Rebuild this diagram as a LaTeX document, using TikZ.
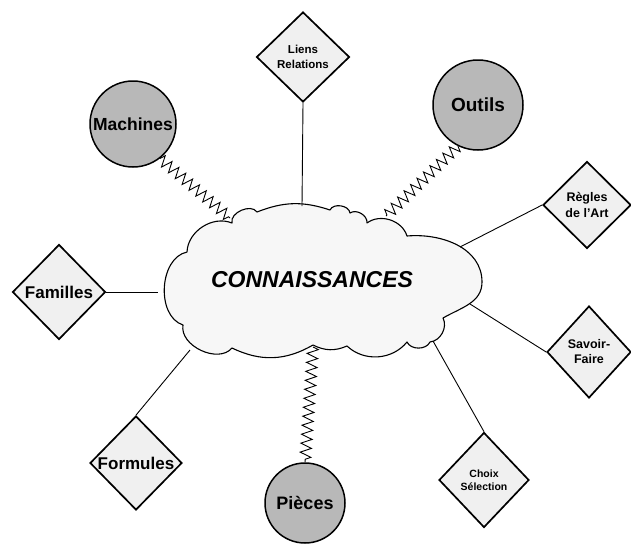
\documentclass[tikz,border=0pt]{standalone}
\usepackage{fontspec}
\setmainfont{Liberation Sans}
\usetikzlibrary{shapes.geometric,decorations.pathmorphing}
\begin{document}
\begin{tikzpicture}[x=1pt,y=1pt,
  dia/.style={diamond, draw, line width=1.7pt, fill=black!6, inner sep=0pt, align=center},
  circ/.style={circle, draw, line width=1.5pt, fill=black!28, inner sep=0pt},
  link/.style={line width=0.9pt},
  zig/.style={line width=0.9pt, line join=miter, decorate, decoration={zigzag, segment length=9pt, amplitude=5.5pt}},
  cloudline/.style={draw, line width=1.1pt, line join=round, fill=black!3}]
\useasboundingbox (0,0) rectangle (631,-546);
\fill[white] (0,0) rectangle (631,-546);

% cloud outline
\path[cloudline]
  (183,-325) to[bend left=75] (187,-252) to[bend left=55] (232,-223)
  to[bend left=80] (257,-212) to[bend left=20] (330,-210)
  to[bend left=75] (350,-213) to[bend left=65] (367,-223)
  to[bend left=55] (407,-236) to[out=5,in=90] (482,-282)
  to[out=-90,in=30] (443,-318) to[bend left=55] (430,-342)
  to[bend left=65] (407,-342) to[bend left=47] (347,-346)
  to[bend left=25] (313,-345) to[bend left=28] (232,-348)
  to[bend left=75] (183,-325) -- cycle;
\node[font=\bfseries\itshape\fontsize{23}{27}\selectfont] (conn) at (312,-280) {CONNAISSANCES};

% attachment points on the cloud
\coordinate (cT) at (302,-206);
\coordinate (cM) at (230,-218);
\coordinate (cO) at (386,-216);
\coordinate (cR) at (460,-247);
\coordinate (cS) at (470,-304);
\coordinate (cC) at (433,-341);
\coordinate (cP) at (313,-347);
\coordinate (cF) at (190,-350);
\coordinate (cFa) at (158,-292);

% nodes
\node[dia, minimum width=93pt, minimum height=90pt, font=\bfseries\fontsize{11.5}{15}\selectfont] (liens) at (303,-57) {Liens\\Relations};
\node[dia, minimum width=93pt, minimum height=95pt, font=\bfseries\fontsize{17}{20}\selectfont] (familles) at (59,-292) {Familles};
\node[dia, minimum width=92pt, minimum height=94pt, font=\bfseries\fontsize{17}{20}\selectfont] (formules) at (136,-463) {Formules};
\node[dia, minimum width=88pt, minimum height=87pt, font=\bfseries\fontsize{12.5}{16}\selectfont] (regles) at (587,-205) {Règles\\de l'Art};
\node[dia, minimum width=84pt, minimum height=92pt, font=\bfseries\fontsize{12.5}{15}\selectfont] (savoir) at (589,-352) {Savoir-\\Faire};
\node[dia, minimum width=90pt, minimum height=95pt, font=\bfseries\fontsize{10.5}{13}\selectfont] (choix) at (484,-480) {Choix\\Sélection};
\node[circ, minimum size=86pt, font=\bfseries\fontsize{17.5}{20}\selectfont] (machines) at (133,-124) {Machines};
\node[circ, minimum size=90pt, font=\bfseries\fontsize{19}{22}\selectfont] (outils) at (478,-105) {Outils};
\node[circ, minimum size=80pt, font=\bfseries\fontsize{18}{21}\selectfont] (pieces) at (305,-503) {Pièces};

% connectors
\draw[link] (liens.south) -- (cT);
\draw[link] (familles.east) -- (cFa);
\draw[link] (formules.north) -- (cF);
\draw[link] (regles.west) -- (cR);
\draw[link] (savoir.west) -- (cS);
\draw[link] (choix.north) -- (cC);
\draw[zig] (machines.-52) -- (cM);
\draw[zig] (outils.-116) -- (cO);
\draw[zig] (cP) -- (pieces.north);
\end{tikzpicture}
\end{document}
